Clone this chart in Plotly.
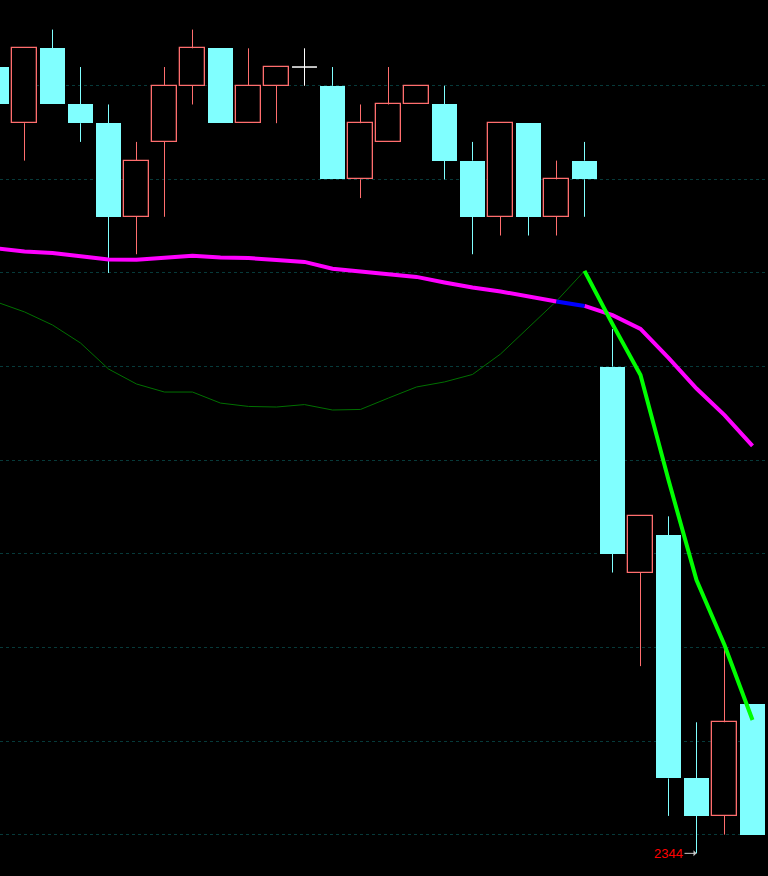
import plotly.graph_objects as go

# ---- data (price units) ----
idx = list(range(28))
open_ = [2386, 2383, 2387, 2384, 2383, 2378, 2382, 2385, 2387, 2383, 2385, 2386, 2385, 2380,
         2382, 2384, 2384, 2381, 2378, 2383, 2378, 2381, 2370, 2359, 2361, 2348, 2346, 2352]
high = [2386, 2387, 2388, 2386, 2384, 2382, 2386, 2388, 2387, 2387, 2386, 2387, 2386, 2384,
        2386, 2385, 2385, 2382, 2383, 2383, 2381, 2382, 2372, 2362, 2362, 2351, 2355, 2352]
low = [2384, 2381, 2384, 2382, 2375, 2376, 2378, 2384, 2383, 2383, 2383, 2385, 2380, 2379,
       2382, 2384, 2380, 2376, 2377, 2377, 2377, 2378, 2359, 2354, 2346, 2344, 2345, 2345]
close = [2384, 2387, 2384, 2383, 2378, 2381, 2385, 2387, 2383, 2385, 2386, 2386, 2380, 2383,
         2384, 2385, 2381, 2378, 2383, 2378, 2380, 2380, 2360, 2362, 2348, 2346, 2351, 2345]

ma = [2376.31, 2376.15, 2376.07, 2375.91, 2375.72, 2375.71, 2375.82, 2375.92, 2375.83, 2375.80,
      2375.69, 2375.59, 2375.23, 2375.08, 2374.91, 2374.79, 2374.49, 2374.22, 2374.01, 2373.77,
      2373.48, 2373.24, 2372.75, 2372.01, 2370.46, 2368.83, 2367.41, 2365.76]
ma_blue_start, ma_blue_end = 20, 21

signal = [2373.45, 2372.92, 2372.22, 2371.26, 2369.87, 2369.07, 2368.64, 2368.64, 2368.05, 2367.87,
          2367.84, 2367.97, 2367.68, 2367.71, 2368.32, 2368.91, 2369.18, 2369.58, 2370.67, 2372.11,
          2373.50, 2375.11, 2372.27, 2369.55, 2363.94, 2358.60, 2355.13, 2351.12]
signal_bold_start = 21

grid_levels = [2345, 2350, 2355, 2360, 2365, 2370, 2375, 2380, 2385]
low_label = "2344"

# ---- styles ----
UP = "#ff6e6e"
DOWN = "#80ffff"
DOJI = "#ffffff"
BODY_W = 0.89

fig = go.Figure()

up_i = [i for i in idx if close[i] > open_[i]]
dn_i = [i for i in idx if close[i] < open_[i]]
dj_i = [i for i in idx if close[i] == open_[i]]


def wick_xy(ids):
    xs, ys = [], []
    for i in ids:
        top = max(open_[i], close[i])
        bot = min(open_[i], close[i])
        if high[i] > top:
            xs += [i, i, None]
            ys += [top, high[i], None]
        if low[i] < bot:
            xs += [i, i, None]
            ys += [bot, low[i], None]
    return xs, ys


for ids, col in ((up_i, UP), (dn_i, DOWN), (dj_i, DOJI)):
    wx, wy = wick_xy(ids)
    fig.add_trace(go.Scatter(x=wx, y=wy, mode="lines", line=dict(color=col, width=1),
                             hoverinfo="skip"))

# down bodies (filled)
fig.add_trace(go.Bar(x=dn_i, base=[close[i] for i in dn_i],
                     y=[open_[i] - close[i] for i in dn_i], width=BODY_W,
                     marker=dict(color=DOWN, line=dict(width=0)), hoverinfo="skip"))
# up bodies (hollow)
fig.add_trace(go.Bar(x=up_i, base=[open_[i] for i in up_i],
                     y=[close[i] - open_[i] for i in up_i], width=BODY_W,
                     marker=dict(color="#000000", line=dict(color=UP, width=1.3)), hoverinfo="skip"))
# doji bodies
dx, dy = [], []
for i in dj_i:
    dx += [i - BODY_W / 2, i + BODY_W / 2, None]
    dy += [open_[i], open_[i], None]
fig.add_trace(go.Scatter(x=dx, y=dy, mode="lines", line=dict(color=DOJI, width=1.5),
                         hoverinfo="skip"))

# thin signal line
fig.add_trace(go.Scatter(x=idx[:signal_bold_start + 1], y=signal[:signal_bold_start + 1],
                         mode="lines", line=dict(color="#007000", width=1), hoverinfo="skip"))
# moving average (magenta with blue segment)
fig.add_trace(go.Scatter(x=idx[:ma_blue_start + 1], y=ma[:ma_blue_start + 1], mode="lines",
                         line=dict(color="#ff00ff", width=4), hoverinfo="skip"))
fig.add_trace(go.Scatter(x=idx[ma_blue_end:], y=ma[ma_blue_end:], mode="lines",
                         line=dict(color="#ff00ff", width=4), hoverinfo="skip"))
fig.add_trace(go.Scatter(x=idx[ma_blue_start:ma_blue_end + 1], y=ma[ma_blue_start:ma_blue_end + 1],
                         mode="lines", line=dict(color="#0000ff", width=4), hoverinfo="skip"))
# bold signal line
fig.add_trace(go.Scatter(x=idx[signal_bold_start:], y=signal[signal_bold_start:], mode="lines",
                         line=dict(color="#00ff00", width=4), hoverinfo="skip"))

# lowest-low label
lo_i = min(idx, key=lambda i: low[i])
fig.add_annotation(x=lo_i, y=low[lo_i], text=low_label, showarrow=True, ax=-28, ay=0,
                   arrowcolor="#c8c8c8", arrowwidth=1, arrowhead=1, arrowsize=1, standoff=0,
                   font=dict(family="Liberation Sans, Arial", size=13, color="#ff0000"))

fig.update_layout(
    width=768, height=876,
    margin=dict(l=0, r=0, t=0, b=0),
    paper_bgcolor="#000000", plot_bgcolor="#000000",
    showlegend=False, barmode="overlay", bargap=0,
    xaxis=dict(range=[3.5 / 28, 771.5 / 28], visible=False, fixedrange=True),
    yaxis=dict(range=[2342.79, 2389.58], tickvals=grid_levels, showticklabels=False,
               showgrid=True, gridcolor="#073a3a", griddash="dot", gridwidth=1,
               zeroline=False, showline=False, fixedrange=True),
)

fig.write_html(
    "out.html",
    config={"displayModeBar": False},
    post_script="document.body.style.margin='0';document.body.style.background='#000';"
                "document.body.style.overflow='hidden';",
)
